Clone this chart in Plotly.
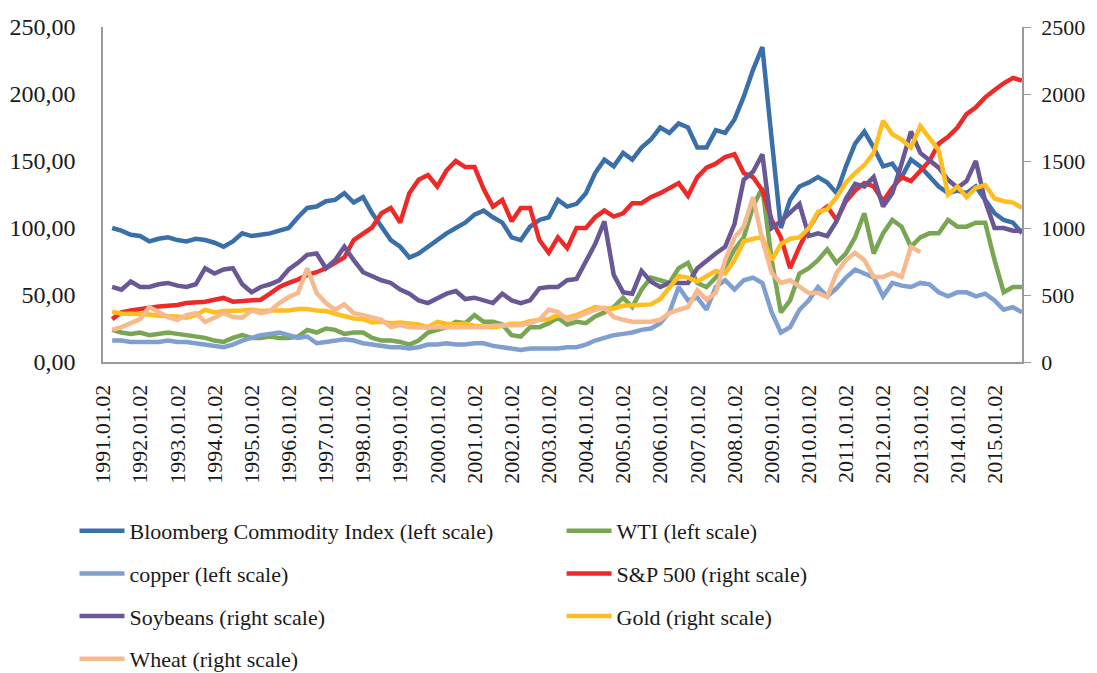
import pandas as pd
import plotly.graph_objects as go

# quarterly sampling dates 1991-01 .. 2015-07, plus last observation
dates = list(pd.date_range("1991-01-02", "2015-07-02", freq="QS-JAN")) + [pd.Timestamp("2015-09-28")]

bloomberg = [100, 98, 95, 94, 90, 92, 93, 91, 90, 92, 91, 89, 86, 90, 96, 94,
             95, 96, 98, 100, 108, 115, 116, 120, 121, 126, 119, 123, 111, 101, 91, 86,
             78, 81, 86, 92, 96, 100, 104, 110, 113, 108, 104, 93, 91, 101, 106, 108,
             121, 116, 118, 126, 141, 151, 146, 156, 151, 160, 166, 175, 171, 178, 175, 160,
             160, 173, 171, 181, 198, 218, 235, 166, 100, 121, 131, 134, 138, 134, 126, 146,
             163, 172, 160, 146, 148, 138, 151, 146, 138, 131, 126, 128, 126, 131, 121, 111,
             106, 104, 96, 91]
wti = [24, 22, 21, 22, 20, 21, 22, 21, 20, 19, 18, 16, 15, 18, 20, 18,
       18, 19, 18, 18, 19, 24, 22, 25, 24, 21, 22, 22, 18, 16, 16, 15,
       13, 16, 22, 24, 26, 30, 29, 35, 30, 30, 28, 20, 19, 26, 26, 29,
       33, 28, 30, 29, 34, 37, 41, 48, 41, 54, 63, 61, 59, 70, 74, 59,
       56, 63, 71, 84, 93, 116, 130, 76, 37, 46, 66, 70, 76, 84, 74, 81,
       93, 111, 81, 96, 106, 101, 86, 93, 96, 96, 106, 101, 101, 104, 104, 76,
       52, 56, 56, 46]
copper = [16, 16, 15, 15, 15, 15, 16, 15, 15, 14, 13, 12, 11, 13, 16, 18,
          20, 21, 22, 20, 18, 19, 14, 15, 16, 17, 16, 14, 13, 12, 11, 11,
          10, 11, 13, 13, 14, 13, 13, 14, 14, 12, 11, 10, 9, 10, 10, 10,
          10, 11, 11, 13, 16, 18, 20, 21, 22, 24, 25, 29, 37, 56, 46, 48,
          39, 56, 61, 54, 61, 63, 59, 37, 22, 26, 39, 46, 56, 49, 55, 63,
          69, 66, 63, 49, 59, 57, 56, 59, 58, 52, 49, 52, 52, 49, 51, 46,
          39, 41, 37, 35]
sp500 = [320, 370, 385, 395, 410, 415, 420, 425, 440, 445, 450, 465, 478, 450, 455, 460,
         465, 510, 560, 590, 615, 650, 670, 700, 740, 780, 910, 960, 1005, 1110, 1150, 1040,
         1260, 1360, 1395, 1310, 1430, 1500, 1455, 1455, 1290, 1160, 1210, 1050, 1150, 1150, 910, 815,
         930, 850, 1000, 1000, 1080, 1130, 1085, 1110, 1185, 1185, 1230, 1260, 1300, 1335, 1240, 1380,
         1450, 1480, 1530, 1550, 1410, 1380, 1280, 1060, 930, 700, 860, 1000, 1110, 1160, 1060, 1200,
         1280, 1335, 1310, 1200, 1300, 1380, 1350, 1430, 1500, 1630, 1680, 1750, 1850, 1900, 1975, 2030,
         2080, 2120, 2100, 1990]
soybeans = [560, 540, 600, 560, 560, 580, 590, 570, 560, 580, 700, 660, 690, 700, 580, 520,
            560, 580, 610, 690, 740, 800, 810, 700, 760, 860, 760, 670, 640, 610, 590, 540,
            510, 460, 440, 480, 510, 530, 470, 480, 460, 440, 510, 460, 440, 460, 550, 560,
            560, 610, 620, 760, 880, 1050, 650, 520, 510, 680, 600, 560, 590, 590, 590, 700,
            760, 810, 860, 1030, 1360, 1420, 1550, 1000, 1050, 1110, 1180, 940, 960, 940, 1050, 1220,
            1330, 1310, 1380, 1160, 1260, 1480, 1720, 1560, 1500, 1450, 1360, 1300, 1350, 1500, 1200, 1000,
            1000, 980, 980, 880]
gold = [375, 360, 360, 360, 355, 345, 345, 340, 330, 350, 390, 370, 380, 380, 385, 390,
        380, 385, 385, 385, 395, 395, 385, 380, 360, 345, 325, 320, 295, 300, 290, 295,
        285, 280, 260, 300, 285, 280, 285, 270, 265, 260, 270, 285, 285, 305, 315, 320,
        350, 330, 350, 380, 410, 400, 400, 420, 425, 430, 430, 470, 560, 640, 630, 600,
        640, 680, 660, 760, 900, 920, 930, 760, 880, 920, 930, 1000, 1120, 1140, 1230, 1340,
        1410, 1470, 1560, 1800, 1700, 1660, 1600, 1760, 1670, 1580, 1250, 1310, 1230, 1300, 1320, 1220,
        1200, 1190, 1150, 1120]
wheat = [240, 260, 290, 320, 410, 370, 335, 315, 350, 365, 300, 330, 365, 335, 330, 385,
         365, 380, 440, 485, 515, 700, 515, 440, 390, 430, 365, 350, 335, 315, 260, 275,
         260, 255, 255, 260, 260, 255, 260, 260, 260, 270, 275, 275, 275, 290, 315, 390,
         375, 315, 335, 365, 390, 405, 335, 315, 300, 300, 300, 315, 365, 390, 410, 535,
         465, 515, 760, 930, 1010, 1230, 910, 665, 590, 610, 560, 515, 515, 485, 665, 760,
         815, 760, 635, 635, 665, 635, 860, 820, None, None, None, None, None, None, None, None,
         None, None, None, None]

left_ticks = [0, 50, 100, 150, 200, 250]
left_ticktext = ["0,00", "50,00", "100,00", "150,00", "200,00", "250,00"]
right_ticks = [0, 500, 1000, 1500, 2000, 2500]
right_ticktext = ["0", "500", "1000", "1500", "2000", "2500"]
x_tick_dates = [f"{y}-01-02" for y in range(1991, 2016)]
x_ticktext = [f"{y}.01.02" for y in range(1991, 2016)]

series = [
    ("Bloomberg Commodity Index (left scale)", bloomberg, "#3B6FA9", "y", "legend"),
    ("WTI (left scale)", wti, "#79A653", "y", "legend2"),
    ("copper (left scale)", copper, "#7F9FD1", "y", "legend"),
    ("S&P 500 (right scale)", sp500, "#EE2A29", "y2", "legend2"),
    ("Soybeans (right scale)", soybeans, "#6A5796", "y2", "legend"),
    ("Gold (right scale)", gold, "#FFBD1F", "y2", "legend2"),
    ("Wheat (right scale)", wheat, "#F7B98E", "y2", "legend"),
]

fig = go.Figure()
for name, vals, color, yax, leg in series:
    fig.add_trace(go.Scatter(
        x=dates, y=vals, name=name, mode="lines", yaxis=yax,
        line=dict(color=color, width=4.5), legend=leg, legendgroup=name,
        connectgaps=False,
    ))

font_family = "Liberation Serif, Times New Roman, serif"
fig.update_layout(
    width=1097, height=673,
    margin=dict(l=103, r=75, t=27, b=311, autoexpand=False),
    plot_bgcolor="white", paper_bgcolor="white",
    font=dict(family=font_family, color="#1a1a1a", size=20),
    xaxis=dict(
        type="date", range=["1991-01-01", "2015-09-28"],
        tickvals=x_tick_dates, ticktext=x_ticktext, tickangle=-90,
        showline=True, linecolor="#9a9a9a", linewidth=2, automargin=False,
        showgrid=False, zeroline=False, ticks="", ticklabelstandoff=12,
        tickfont=dict(size=22, family=font_family, color="#1a1a1a"),
    ),
    yaxis=dict(
        range=[0, 250], tickvals=left_ticks, ticktext=left_ticktext,
        showline=True, linecolor="#9a9a9a", linewidth=1.5, automargin=False,
        showgrid=False, zeroline=False, ticks="", ticklabelstandoff=21,
        tickfont=dict(size=24, family=font_family, color="#1a1a1a"),
    ),
    yaxis2=dict(
        range=[0, 2500], tickvals=right_ticks, ticktext=right_ticktext,
        overlaying="y", side="right", automargin=False,
        showline=True, linecolor="#9a9a9a", linewidth=1.5,
        showgrid=False, zeroline=False, ticks="outside", ticklen=7, tickcolor="#9a9a9a",
        ticklabelstandoff=6,
        tickfont=dict(size=22, family=font_family, color="#1a1a1a"),
    ),
    legend=dict(
        orientation="v", x=-0.031, y=-0.442, xanchor="left", yanchor="top",
        font=dict(size=22, family=font_family, color="#1a1a1a"),
        tracegroupgap=11, bgcolor="rgba(0,0,0,0)", itemwidth=45,
    ),
    legend2=dict(
        orientation="v", x=0.499, y=-0.442, xanchor="left", yanchor="top",
        font=dict(size=22, family=font_family, color="#1a1a1a"),
        tracegroupgap=11, bgcolor="rgba(0,0,0,0)", itemwidth=45,
    ),
    showlegend=True,
)

fig.write_html(
    "out.html",
    config={"displayModeBar": False},
    post_script="document.body.style.margin='0';document.body.style.padding='0';",
)
